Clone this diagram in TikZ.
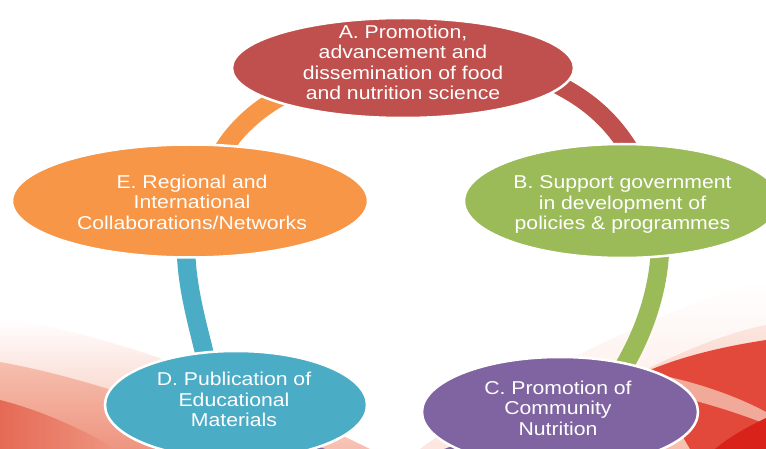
\documentclass[tikz,border=0pt]{standalone}
\usepackage{fontspec}
\setmainfont{Liberation Sans}[FakeStretch=1.14]
\usetikzlibrary{shapes.geometric,calc}
\definecolor{cA}{HTML}{C0504D}
\definecolor{cB}{HTML}{9BBB59}
\definecolor{cC}{HTML}{8064A2}
\definecolor{cD}{HTML}{4BACC6}
\definecolor{cE}{HTML}{F79646}
\definecolor{pinkL}{HTML}{FCE6DF}
\definecolor{pinkM}{HTML}{F6BFAF}
\definecolor{salmon}{HTML}{EE9580}
\definecolor{salmonD}{HTML}{E56A55}
\definecolor{redM}{HTML}{E2493A}
\definecolor{redD}{HTML}{D8221A}
\pgfdeclarelayer{bgl}
\pgfdeclarelayer{ringl}
\pgfsetlayers{bgl,ringl,main}
\begin{document}
\begin{tikzpicture}[x=1pt,y=-1pt,
  bubble/.style={ellipse, draw=white, line width=2.5pt, inner sep=0pt},
  txt/.style={text=white, align=center, font=\fontsize{18.6}{20.5}\selectfont, inner sep=0pt},
  ring/.style={line width=18.5pt, line cap=butt, line join=round}]
\useasboundingbox (0,0) rectangle (766,449);

% background swooshes
\begin{pgfonlayer}{bgl}
\fill[white] (0,0) rectangle (766,449);
% left side
\shade[top color=white, bottom color=pinkM] (0,318) .. controls (150,340) and (290,410) .. (370,449) -- (0,449) -- cycle;
\shade[top color=pinkM, bottom color=salmon] (0,362) .. controls (100,380) and (200,420) .. (265,449) -- (0,449) -- cycle;
\shade[left color=salmonD, right color=salmon] (0,400) .. controls (40,410) and (85,430) .. (115,449) -- (0,449) -- cycle;
% right side
\shade[top color=white, bottom color=pinkL] (766,280) .. controls (650,312) and (500,390) .. (420,449) -- (766,449) -- cycle;
\shade[top color=pinkL, bottom color=pinkM] (766,325) .. controls (690,340) and (580,400) .. (520,449) -- (766,449) -- cycle;
\fill[redM] (766,340) .. controls (720,347) and (680,357) .. (645,372) -- (690,449) -- (766,449) -- cycle;
\fill[salmon!80!white] (645,372) .. controls (700,382) and (740,398) .. (766,412) -- (766,424) .. controls (730,410) and (690,398) .. (655,392) -- cycle;
\fill[redD] (766,418) .. controls (745,428) and (728,438) .. (715,449) -- (766,449) -- cycle;
\end{pgfonlayer}

% ellipses
\node[bubble, fill=cA, minimum width=342pt, minimum height=100pt] (A) at (403,68) {};
\node[bubble, fill=cB, minimum width=316pt, minimum height=114pt] (B) at (622,201) {};
\node[bubble, fill=cC, minimum width=276pt, minimum height=110pt] (C) at (560,412) {};
\node[bubble, fill=cD, minimum width=262pt, minimum height=108pt] (D) at (236,405) {};
\node[bubble, fill=cE, minimum width=356pt, minimum height=113pt] (E) at (190,201) {};

% texts
\node[txt] (At) at (403,62.4) {A. Promotion,\\advancement and\\dissemination of food\\and nutrition science};
\node[txt] (Bt) at (622.5,204.5) {B. Support government\\in development of\\policies \& programmes};
\node[txt] (Ct) at (558,408) {C. Promotion of\\Community\\Nutrition};
\node[txt] (Dt) at (234,399.5) {D. Publication of\\Educational\\Materials};
\node[txt] (Et) at (192,202) {E. Regional and\\International\\Collaborations/Networks};

% connectors
\begin{pgfonlayer}{ringl}
\draw[ring, draw=cA] (A.center) -- (548,80) .. controls (585,97) and (615,120) .. (638,165) -- (B.center);
\draw[ring, draw=cB] (B.center) -- (660,235) .. controls (662,290) and (640,345) .. (612,385) -- (C.center);
\draw[ring, draw=cC] (C.center) -- (480,440) .. controls (440,475) and (340,475) .. (295,445) -- (D.center);
\draw[ring, draw=cD] (D.center) -- (209,372) .. controls (198,325) and (185,285) .. (186,240) -- (E.center);
\draw[ring, draw=cE] (E.center) -- (212,175) .. controls (222,140) and (255,105) .. (305,85) -- (A.center);
\end{pgfonlayer}
\end{tikzpicture}
\end{document}
